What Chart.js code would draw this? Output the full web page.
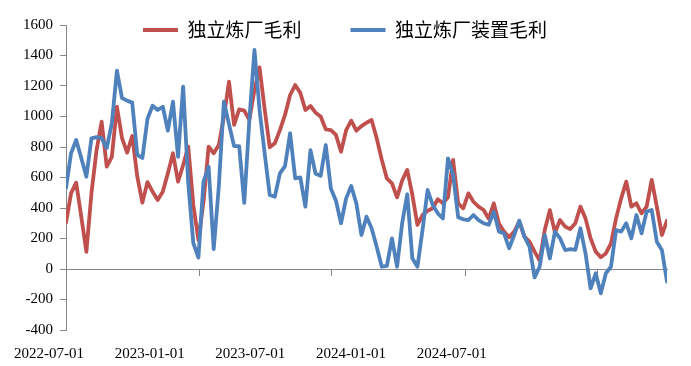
<!DOCTYPE html>
<html>
<head>
<meta charset="utf-8">
<script src="https://cdn.jsdelivr.net/npm/chart.js@4.4.1/dist/chart.umd.min.js"></script>
<style>
  html, body { margin: 0; padding: 0; background: #fff; }
  #wrap { width: 691px; height: 366px; }
</style>
</head>
<body>
<div id="wrap"><canvas id="chart" width="691" height="366"></canvas></div>
<script>
// Weekly data, first week = 2022-07-01
const startDate = '2022-07-01';
const seriesNames = ['独立炼厂毛利', '独立炼厂装置毛利'];

const refineryMargin = [
    304, 498, 566, 343, 113, 498, 780, 966, 671, 736,
    1064, 858, 763, 872, 605, 435, 570, 507, 452, 507,
    627, 759, 573, 682, 802, 420, 190, 441, 802, 759,
    813, 999, 1228, 945, 1047, 1038, 977, 1174, 1322, 1050,
    798, 824, 911, 1010, 1141, 1206, 1156, 1043, 1069, 1025,
    1000, 916, 911, 879, 769, 911, 973, 907, 937, 959,
    977, 857, 716, 594, 562, 470, 580, 650, 486, 289,
    354, 382, 398, 457, 431, 470, 715, 430, 398, 496,
    441, 409, 387, 330, 430, 299, 245, 208, 245, 310,
    212, 179, 114, 55, 256, 386, 238, 321, 278, 262,
    300, 409, 332, 201, 114, 77, 102, 168, 332, 463,
    573, 409, 431, 365, 409, 584, 409, 223, 317
];

const unitMargin = [
    531, 760, 846, 728, 605, 857, 865, 858, 793, 957,
    1300, 1121, 1104, 1091, 748, 728, 985, 1071, 1043, 1064,
    907, 1097, 736, 1196, 564, 170, 75, 573, 671, 130,
    540, 1097, 950, 806, 806, 433, 977, 1436, 1043, 760,
    485, 474, 627, 675, 890, 595, 601, 409, 780, 625,
    611, 813, 528, 448, 300, 463, 544, 431, 223, 343,
    267, 146, 15, 20, 201, 15, 300, 490, 70, 15,
    256, 518, 420, 365, 332, 726, 620, 339, 326, 321,
    354, 321, 300, 290, 376, 245, 234, 136, 223, 317,
    212, 146, -55, 15, 223, 70, 245, 201, 124, 130,
    125, 267, 103, -127, -28, -160, -28, 15, 256, 245,
    300, 201, 354, 234, 376, 387, 179, 125, -83
];

// tick marks sit on these dates, labels along the bottom
const tickDates = ['2022-07-01', '2023-01-01', '2023-07-01', '2024-01-01', '2024-07-01'];
const tickLabels = ['2022-07-01', '2023-01-01', '2023-07-01', '2024-01-01', '2024-07-01'];

const axisFont = { family: '"Liberation Serif", "Times New Roman", serif', size: 15 };
const axisGray = '#868686';

function weekOf(d) {
    return (Date.parse(d) - Date.parse(startDate)) / (7 * 86400000);
}

function toPoints(arr) {
    return arr.map((v, i) => ({ x: i, y: v }));
}

// legend sits over the top of the plot, like the original
const legendOverPlot = {
    id: 'legendOverPlot',
    afterLayout(c) {
        const lg = c.legend;
        if (!lg) return;
        lg.top = -28.5;
        lg.bottom = 60;
        lg.height = lg.bottom - lg.top;
    }
};

const ctx = document.getElementById('chart').getContext('2d');
const chart = new Chart(ctx, {
    type: 'line',
    data: {
        datasets: [{
            label: seriesNames[0],
            data: toPoints(refineryMargin),
            borderColor: '#C0504D',
            backgroundColor: '#C0504D',
            borderWidth: 3.8,
            pointRadius: 0,
            tension: 0,
            borderJoinStyle: 'round',
            borderCapStyle: 'round',
            order: 1
        }, {
            label: seriesNames[1],
            data: toPoints(unitMargin),
            borderColor: '#4F81BD',
            backgroundColor: '#4F81BD',
            borderWidth: 3.8,
            pointRadius: 0,
            tension: 0,
            borderJoinStyle: 'round',
            borderCapStyle: 'round',
            order: 0
        }]
    },
    options: {
        responsive: false,
        animation: false,
        events: [],
        layout: { padding: { top: 0, left: 23, right: 24, bottom: 0 } },
        plugins: {
            tooltip: { enabled: false },
            legend: {
                position: 'top',
                align: 'center',
                maxHeight: 25,
                labels: {
                    boxWidth: 35,
                    boxHeight: 4,
                    padding: 49,
                    color: '#000',
                    font: { family: '"Noto Sans CJK SC", sans-serif', size: 19 },
                    generateLabels: (c) => c.data.datasets.map((ds, i) => ({
                        text: ds.label,
                        fillStyle: ds.borderColor,
                        strokeStyle: ds.borderColor,
                        lineWidth: 0,
                        hidden: false,
                        datasetIndex: i
                    }))
                }
            }
        },
        scales: {
            x: {
                type: 'linear',
                position: { y: 0 },
                min: 0,
                max: refineryMargin.length - 1,
                afterBuildTicks: (s) => { s.ticks = tickDates.map(d => ({ value: weekOf(d) })); },
                ticks: { display: false },
                grid: { drawOnChartArea: false, drawTicks: true, tickLength: 6, color: axisGray },
                border: { display: true, color: axisGray, width: 1 }
            },
            xl: {
                type: 'linear',
                position: 'bottom',
                min: 0,
                max: 5.97,
                grid: { display: false },
                border: { display: false },
                afterFit: (s) => { s.height = 36; },
                ticks: {
                    stepSize: 1,
                    autoSkip: false,
                    maxRotation: 0,
                    labelOffset: -17,
                    padding: 7,
                    color: '#000',
                    font: axisFont,
                    callback: (v) => tickLabels[v] || ''
                }
            },
            y: {
                min: -400,
                max: 1600,
                afterFit: (s) => { s.width = 43; },
                ticks: { stepSize: 200, padding: 7, color: '#000', font: axisFont, callback: (v) => String(v) },
                grid: { drawOnChartArea: false, drawTicks: true, tickLength: 6, color: axisGray },
                border: { display: true, color: axisGray, width: 1 }
            }
        }
    },
    plugins: [legendOverPlot]
});
</script>
</body>
</html>
